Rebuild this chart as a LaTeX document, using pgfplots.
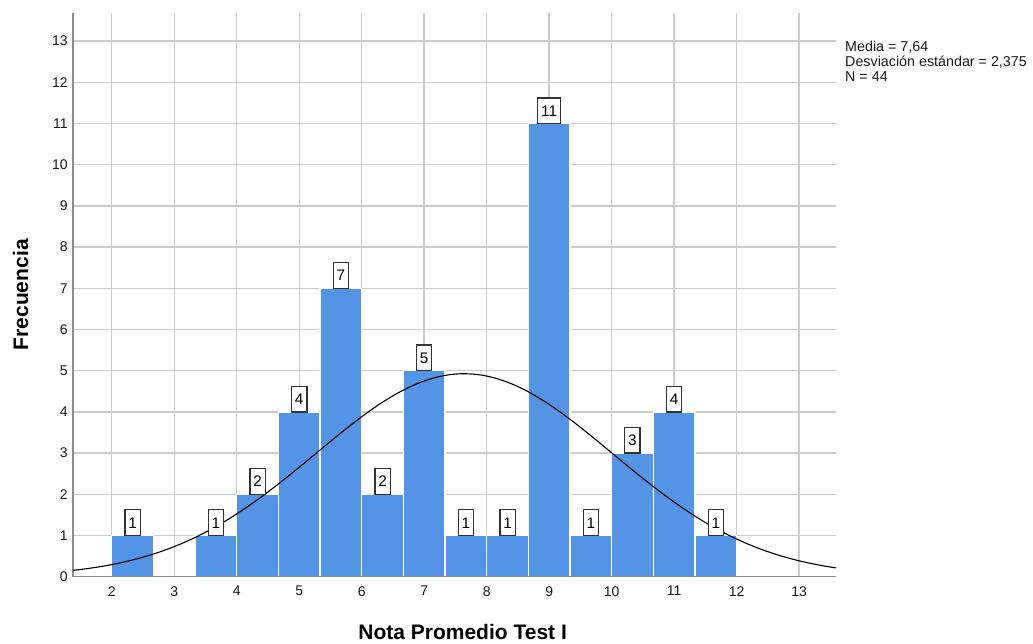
\documentclass[border=0pt]{standalone}
\usepackage{pgfplots}
\pgfplotsset{compat=1.18}
\usepackage{fontspec}
\setmainfont{Liberation Sans}
\definecolor{barblue}{RGB}{83,148,228}
\definecolor{gridgray}{RGB}{204,204,204}
\definecolor{axgray}{RGB}{140,140,140}
\begin{document}
\begin{tikzpicture}
\begin{axis}[
  clip=false,
  scale only axis,
  width=762.7pt, height=564pt,
  xmin=1.385, xmax=13.59,
  ymin=0, ymax=13.69,
  axis x line=bottom, axis y line=left,
  axis line style={-, draw=axgray, line width=1.6pt},
  xtick={2,...,13}, ytick={0,...,13},
  major tick length=0pt,
  grid=major,
  major grid style={draw=gridgray, line width=1.4pt},
  tick label style={font=\fontsize{14}{16}\selectfont, text=black!90},
  /pgf/number format/assume math mode=true,
  xticklabel style={yshift=-6pt},
  yticklabel style={xshift=-2pt},
  xlabel={\textbf{Nota Promedio Test I}},
  ylabel={\textbf{Frecuencia}},
  xlabel style={font=\fontsize{21}{24}\selectfont, xshift=8pt, yshift=-21pt},
  ylabel style={font=\fontsize{21}{24}\selectfont, yshift=17pt},
  every node near coord/.style={draw=black!80, fill=white, line width=1.3pt, anchor=south,
      inner xsep=3.4pt, inner ysep=7.3pt, text height=11pt, text depth=0pt,
      font=\fontsize{15.3}{17}\selectfont, yshift=-0.6pt},
]
\coordinate (BL) at (rel axis cs:0,0);
\coordinate (TR) at (rel axis cs:1,1);
\addplot[ybar, bar width=0.6667, fill=barblue, draw=white, line width=1.4pt,
  nodes near coords] coordinates {
  (2.3333,1) (3.6667,1) (4.3333,2) (5.0,4) (5.6667,7) (6.3333,2) (7.0,5)
  (7.6667,1) (8.3333,1) (9.0,11) (9.6667,1) (10.3333,3) (11.0,4) (11.6667,1)
};
\addplot[black, line width=1.1pt, smooth, no marks] coordinates {
  (1.385,0.1536) (1.4,0.1561) (1.65,0.2048) (1.9,0.2656) (2.15,0.3407) (2.4,0.4320)
  (2.65,0.5419) (2.9,0.6723) (3.15,0.8250) (3.4,1.0012) (3.65,1.2014) (3.9,1.4259)
  (4.15,1.6737) (4.4,1.9428) (4.65,2.2305) (4.9,2.5324) (5.15,2.8438) (5.4,3.1579)
  (5.65,3.4685) (5.9,3.7673) (6.15,4.0469) (6.4,4.2992) (6.65,4.5169) (6.9,4.6936)
  (7.15,4.8232) (7.4,4.9019) (7.64,4.9270) (7.9,4.8976) (8.15,4.8147) (8.4,4.6811)
  (8.65,4.5011) (8.9,4.2802) (9.15,4.0254) (9.4,3.7440) (9.65,3.4439) (9.9,3.1331)
  (10.15,2.8189) (10.4,2.5079) (10.65,2.2068) (10.9,1.9208) (11.15,1.6531) (11.4,1.4071)
  (11.65,1.1845) (11.9,0.9861) (12.15,0.8120) (12.4,0.6611) (12.65,0.5324) (12.9,0.4241)
  (13.15,0.3341) (13.4,0.2602) (13.59,0.2136)
};
\draw[axgray, line width=1.6pt] (rel axis cs:0,0) -- (rel axis cs:1,0);
\end{axis}
\node[anchor=north west, align=left, inner sep=0pt, font=\fontsize{14.3}{15}\selectfont, text=black!90]
  at ([shift={(9pt,-28.5pt)}]TR) {Media = 7,64\\Desviación estándar = 2,375\\N = 44};
\pgfresetboundingbox
\path ([shift={(-73.3pt,-67.3pt)}]BL) rectangle ([shift={(197pt,12.7pt)}]TR);
\end{tikzpicture}
\end{document}
